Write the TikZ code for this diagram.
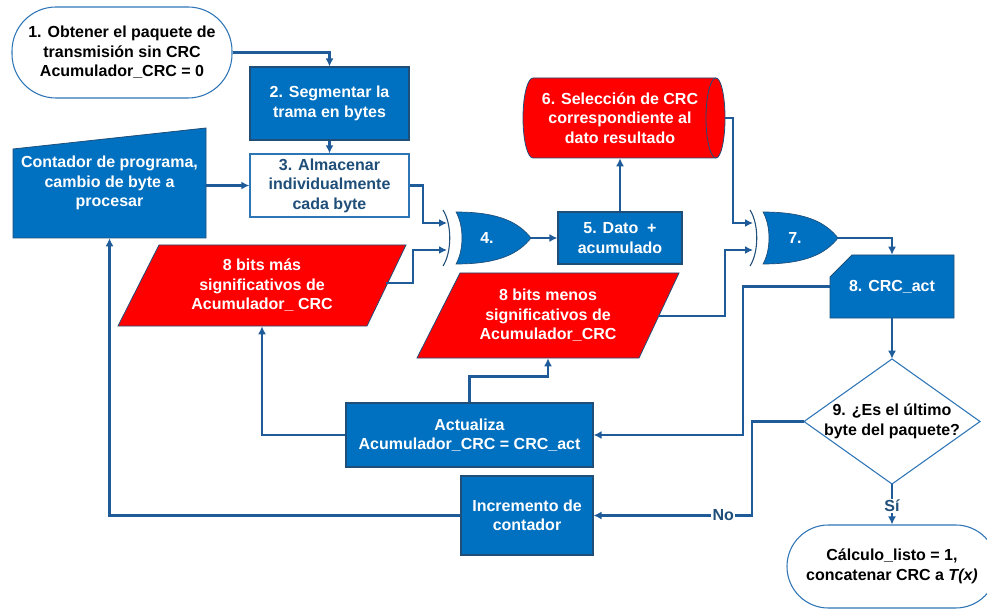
\documentclass[tikz,border=0pt]{standalone}
\usepackage{fontspec}
\setmainfont{Liberation Sans}
\usetikzlibrary{arrows.meta,calc}
\definecolor{fblue}{RGB}{0,112,192}
\definecolor{cline}{RGB}{31,91,153}
\definecolor{edge}{RGB}{31,78,121}
\definecolor{lblue}{RGB}{46,117,182}
\definecolor{fred}{RGB}{255,0,0}
\definecolor{tdark}{RGB}{31,78,121}
\begin{document}
\begin{tikzpicture}[x=0.75pt,y=-0.75pt,
  txt/.style={font=\fontsize{12}{14.6}\selectfont\bfseries, align=center, inner sep=0pt},
  bluebox/.style={txt, rectangle, fill=fblue, draw=edge, line width=0.8pt, text=white},
  holder/.style={txt, rectangle, text=white},
  conn/.style={draw=cline, line width=1.6pt, -{Latex[length=6pt,width=6pt]}},
  lbl/.style={font=\fontsize{12}{14}\selectfont\bfseries, text=tdark, fill=white, inner sep=1pt},
  xorgate/.pic={
    \path[fill=fblue, draw=edge, line width=0.5pt] (0,-26) .. controls (44,-26) and (63,-15) .. (75,0) .. controls (63,15) and (44,26) .. (0,26) .. controls (8,12) and (8,-12) .. (0,-26) -- cycle;
    \draw[edge, line width=0.8pt] (-13,-28) .. controls (-4,-14) and (-4,14) .. (-13,28);
  }
]
\useasboundingbox (0,0) rectangle (987,609);
\fill[white] (0,0) rectangle (987,609);

% ---------- shapes drawn directly ----------
% contador (manual input)
\path[fill=fblue, draw=edge, line width=0.6pt] (13,149) -- (206,128) -- (206,238) -- (13,238) -- cycle;
% 8 bits mas
\path[fill=fred, draw=edge, line width=0.6pt] (159,245) -- (406,245) -- (367,326) -- (118,326) -- cycle;
% 8 bits menos
\path[fill=fred, draw=edge, line width=0.6pt] (460,273) -- (679,273) -- (639,358) -- (417,358) -- cycle;
% cylinder
\path[fill=fred, draw=edge, line width=0.6pt] (533,78) -- (716,78) arc[start angle=-90,end angle=90,x radius=9,y radius=40] -- (533,158) arc[start angle=90,end angle=270,x radius=10,y radius=40] -- cycle;
\draw[edge, line width=0.6pt] (716,78) arc[start angle=-90,end angle=-270,x radius=10,y radius=40];
% card
\path[fill=fblue, draw=edge, line width=0.6pt] (852,255) -- (954,255) -- (954,318) -- (830,318) -- (830,277) -- cycle;
% diamond
\path[fill=white, draw=lblue, line width=0.8pt] (892,359) -- (980,421.5) -- (892,484) -- (804,421.5) -- cycle;
% gates
\pic at (456,238) {xorgate};
\pic at (763,238) {xorgate};

% ---------- nodes ----------
\node[txt, text=black, draw=lblue, line width=0.8pt, fill=white, rounded corners=33pt, minimum width=165pt, minimum height=68.25pt] (start) at (122,52.5) {1. Obtener el paquete de\\transmisión sin CRC\\Acumulador\_CRC = 0};
\node[bluebox, minimum width=119.25pt, minimum height=54.75pt] (box2) at (329.5,103.5) {2. Segmentar la\\trama en bytes};
\node[txt, draw=lblue, line width=1pt, fill=white, text=edge, minimum width=119.25pt, minimum height=47.25pt] (box3) at (329.5,185.5) {3. Almacenar\\individualmente\\cada byte};
\node[holder, minimum width=144.75pt, minimum height=82.5pt] (cont) at (109.5,183) {Contador de programa,\\cambio de byte a\\procesar};
\node[holder, minimum width=216pt, minimum height=60.75pt] (ms) at (262,285.5) {8 bits más\\significativos de\\Acumulador\_ CRC};
\node[holder, minimum width=196.5pt, minimum height=63.75pt] (ls) at (548,315.5) {8 bits menos\\significativos de\\Acumulador\_CRC};
\node[holder, minimum width=157.5pt, minimum height=60pt] (cyl) at (620,118) {6. Selección de CRC\\correspondiente al\\dato resultado};
\node[holder] (g4) at (487,238) {4.};
\node[holder] (g7) at (795,238) {7.};
\coordinate (g4a) at (447,223);
\coordinate (g4b) at (447,250);
\coordinate (g4o) at (531,238);
\coordinate (g7a) at (753,223);
\coordinate (g7b) at (753,250);
\coordinate (g7o) at (838,238);
\node[bluebox, minimum width=93pt, minimum height=39pt] (box5) at (620,238) {5. Dato~ +\\acumulado};
\node[holder, minimum width=93pt, minimum height=47.25pt] (card) at (892,286.5) {8. CRC\_act};
\node[txt, text=black, minimum width=132pt, minimum height=93.75pt] (dec) at (892,421.5) {9. ¿Es el último\\byte del paquete?};
\node[bluebox, minimum width=185.25pt, minimum height=48pt] (act) at (469.5,435) {Actualiza\\Acumulador\_CRC = CRC\_act};
\node[bluebox, minimum width=99pt, minimum height=59.25pt] (inc) at (527,515.5) {Incremento de\\contador};
\node[txt, text=black, draw=lblue, line width=0.8pt, fill=white, rounded corners=31pt, minimum width=157.5pt, minimum height=62.25pt] (fin) at (892,566.5) {Cálculo\_listo = 1,\\concatenar CRC a \textit{T(x)}};
\coordinate (msout) at (386,283);
\coordinate (lsout) at (658,316);

% ---------- connectors ----------
\draw[conn] (start.east) -| (box2.north);
\draw[conn] (box2.south) -- (box3.north);
\draw[conn] (cont.east |- box3.west) -- (box3.west);
\draw[conn] (box3.east) -- ++(13,0) |- (g4a);
\draw[conn] (msout) -- ++(27,0) |- (g4b);
\draw[conn] (g4o) -- (box5.west);
\draw[conn] (box5.north) -- (cyl.south);
\draw[conn] (cyl.east) -- ++(8,0) |- (g7a);
\draw[conn] (lsout) -- ++(67,0) |- (g7b);
\draw[conn] (g7o) -| (card.north);
\draw[conn] (card.west) -- ++(-87,0) |- (act.east);
\draw[conn] (card.south) -- (dec.north);
\draw[conn] (act.north) -- ++(0,-26) -| (ls.south);
\draw[conn] (act.west) -| (ms.south);
\draw[conn] (dec.west) -- ++(-52,0) |- node[lbl, pos=0.59] {No} (inc.east);
\draw[conn] (dec.south) -- node[lbl, pos=0.54] {Sí} (fin.north);
\draw[conn] (inc.west) -| (cont.south);
\end{tikzpicture}
\end{document}
